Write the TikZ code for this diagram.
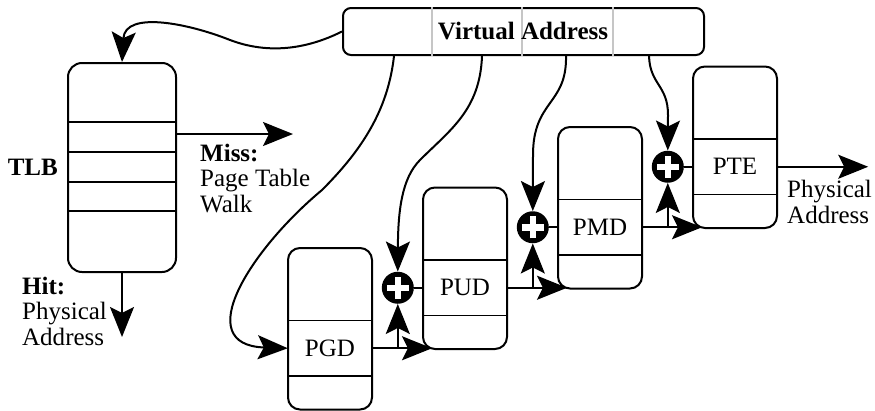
\documentclass[tikz,border=0pt]{standalone}
\usepackage{fontspec}
\setmainfont{Liberation Serif}
\usetikzlibrary{arrows.meta,calc}

\begin{document}
\begin{tikzpicture}[x=1pt,y=-1pt,
  every node/.style={font=\fontsize{25pt}{25.5pt}\selectfont, inner sep=0pt},
  pen/.style={line width=2pt},
  rule/.style={line width=1.5pt},
  link/.style={pen, -{Stealth[length=30pt,width=24pt,inset=6pt]}},
  tbox/.style={draw, pen, rounded corners=12pt, minimum width=84pt, minimum height=161.5pt},
  entry/.style={minimum width=84pt, minimum height=55.5pt},
  adder/.style={circle, fill=black, minimum size=32pt,
    path picture={
      \draw[white, line width=6.5pt]
        ([xshift=-11pt]path picture bounding box.center) -- ([xshift=11pt]path picture bounding box.center)
        ([yshift=-11pt]path picture bounding box.center) -- ([yshift=11pt]path picture bounding box.center);
    }},
]
\useasboundingbox (0,0) rectangle (875,410);

% Virtual address register with its index fields
\node[draw, pen, rounded corners=8pt, minimum width=361pt, minimum height=47pt] (va) at (523.5,31.5) {};
\foreach \x in {90,180,271}
  \draw[line width=1.2pt, gray!45] ([xshift=\x pt]va.north west) -- ([xshift=\x pt]va.south west);
\node (vat) at (523,31.5) {\bfseries Virtual Address};

% TLB
\node[draw, pen, rounded corners=14pt, minimum width=108pt, minimum height=209pt] (tlb) at (122,167.5) {};
\foreach \y in {122,152,182,211}
  \draw[rule] (tlb.west |- 0,\y) -- (tlb.east |- 0,\y);
\node[anchor=base east] (tlbl) at (58,175) {\bfseries TLB};

\coordinate (missend) at (293,134);
\coordinate (hitend) at (122,337);
\draw[link] (tlb.east |- missend) -- (missend);
\draw[link] (tlb.south) -- (hitend);
% the base anchor of a multi-line node sits on its last line
\node[anchor=base west, align=left] (miss) at (200,212) {\textbf{Miss:}\\Page Table\\Walk};
\node[anchor=base west, align=left] (hit) at (22,345) {\textbf{Hit:}\\Physical\\Address};

% page table levels
\foreach \n/\lab [count=\i from 0] in {pgd/PGD,pud/PUD,pmd/PMD,pte/PTE} {
  \pgfmathsetmacro\L{288+135*\i}
  \pgfmathsetmacro\T{248-60.5*\i}
  \node[tbox] (\n box) at (\L+42,\T+80.75) {};
  \node[entry] (\n) at (\L+42,\T+100.25) {\lab};
  \draw[rule] (\n.north west) -- (\n.north east) (\n.south west) -- (\n.south east);
}

% adders feeding each level
\node[adder] (a1) at ($(pud.west)+(-25,0)$) {};
\node[adder] (a2) at ($(pmd.west)+(-25,0)$) {};
\node[adder] (a3) at ($(pte.west)+(-25,0)$) {};
\draw[pen] (a1) -- (pud);
\draw[pen] (a2) -- (pmd);
\draw[pen] (a3) -- (pte);

% base address passed from one level to the next
\draw[link] (pgd.east) -- ($(pudbox.south west |- pgd.east)+(10,0)$);
\draw[link] (a1 |- pgd.east) -- (a1.south);
\draw[link] (pud.east) -- ($(pmdbox.south west |- pud.east)+(10,0)$);
\draw[link] (a2 |- pud.east) -- (a2.south);
\draw[link] (pmd.east) -- ($(ptebox.south west |- pmd.east)+(10,0)$);
\draw[link] (a3 |- pmd.east) -- (a3.south);

\coordinate (out) at ($(pte.east)+(91,0)$);
\draw[link] (pte.east) -- (out);
\node[anchor=base west, align=left] (paddr) at (787,223) {Physical\\Address};

% index fields of the virtual address
\draw[link] (va.west) .. controls (315,45) and (275,57) .. (230,40)
            .. controls (190,24) and (125,10) .. (tlb.north);
\draw[link] ([xshift=52pt]va.south west) .. controls (388,110) and (362,150) .. (322,190)
            .. controls (250,250) and (190,345) .. (pgd.west);
\draw[link] ([xshift=140pt]va.south west) .. controls (480,110) and (450,130) .. (420,160)
            .. controls (402,178) and (398,210) .. (a1.north);
\draw[link] ([xshift=224pt]va.south west) .. controls (567,105) and (533,100) .. (533,155) -- (a2.north);
\draw[link] ([xshift=307pt]va.south west) .. controls (650,85) and (668,85) .. (668,115) -- (a3.north);
\end{tikzpicture}
\end{document}
